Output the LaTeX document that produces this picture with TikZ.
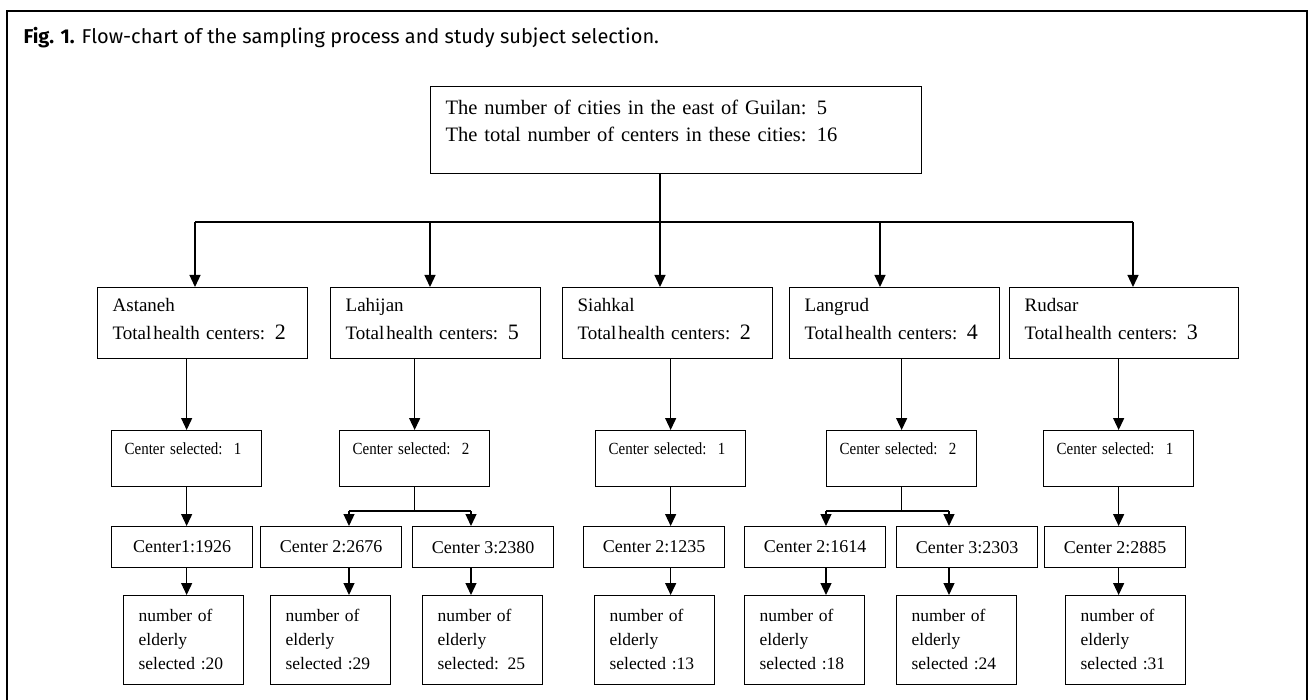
\documentclass[tikz,border=0pt]{standalone}
\usepackage{fontspec}
\setmainfont{Liberation Serif}
\newfontfamily\titlefont{Fira Sans}
\newfontfamily\narrowfont[FakeStretch=0.88]{Liberation Serif}
\usetikzlibrary{positioning}
\usetikzlibrary{arrows.meta}
\usetikzlibrary{calc}

\newcommand{\hcnum}[1]{{\fontsize{22}{28}\selectfont #1}}

\begin{document}
\begin{tikzpicture}[x=1pt,y=-1pt,>={Triangle[length=12pt,width=11pt]},line width=1.3pt,
                    box/.style={draw,anchor=north west,align=left,inner xsep=15pt},
                    top node/.style={box,text width=461pt,inner ysep=6pt,text height=22pt,text depth=53pt,font=\fontsize{20.5}{27}\selectfont},
                    city node/.style={box,text width=180pt,inner ysep=6pt,text height=18pt,text depth=41pt,font=\fontsize{19}{28}\selectfont},
                    sel node/.style={box,inner xsep=13pt,text width=124pt,inner ysep=7pt,text height=17pt,text depth=25pt,font=\narrowfont\fontsize{17}{20}\selectfont},
                    count node/.style={draw,anchor=north west,minimum width=141pt,minimum height=41pt,inner sep=0pt,font=\fontsize{18}{22}\selectfont},
                    elder node/.style={box,text width=90pt,inner ysep=6pt,text height=20pt,text depth=57pt,font=\fontsize{17.5}{24}\selectfont}]
\useasboundingbox (0,0) rectangle (1309,700);

% frame and caption
\draw[line width=1.5pt] (7,700) -- (7,11) -- (1307,11) -- (1307,700);
\node[anchor=base west,inner sep=0pt,font=\titlefont\fontsize{20}{24}\selectfont] (title) at (23,44)
  {\textbf{Fig. 1.} Flow-chart of the sampling process and study subject selection.};

\node[top node] (top) at (430,86) {The number of cities in the east of Guilan: 5\\The total number of centers in these cities: 16};

% cities
\node[city node] (ast) at (97,287) {Astaneh\\Total\hspace{2pt}health centers: \hcnum{2}};
\node[city node] (lah) at (330,287) {Lahijan\\Total\hspace{2pt}health centers: \hcnum{5}};
\node[city node] (sia) at (562,287) {Siahkal\\Total\hspace{2pt}health centers: \hcnum{2}};
\node[city node] (lan) at (789,287) {Langrud\\Total\hspace{2pt}health centers: \hcnum{4}};
\node[city node,text width=199pt] (rud) at (1009,287) {Rudsar\\Total\hspace{2pt}health centers: \hcnum{3}};

\node[sel node] (astsel) at (111,430) {Center selected:\ \ 1};
\node[sel node] (lahsel) at (339,430) {Center selected:\ \ 2};
\node[sel node] (siasel) at (595,430) {Center selected:\ \ 1};
\node[sel node] (lansel) at (826,430) {Center selected:\ \ 2};
\node[sel node] (rudsel) at (1043,430) {Center selected:\ \ 1};

\node[count node] (ast1) at (111,526) {Center1:1926};
\node[count node] (lah2) at (260,526) {Center 2:2676};
\node[count node] (lah3) at (412,526) {Center 3:2380};
\node[count node] (sia2) at (583,526) {Center 2:1235};
\node[count node] (lan2) at (744,526) {Center 2:1614};
\node[count node] (lan3) at (896,526) {Center 3:2303};
\node[count node] (rud2) at (1044,526) {Center 2:2885};

\node[elder node] (ast1e) at (123,595) {number of\\elderly\\selected :20};
\node[elder node] (lah2e) at (270,595) {number of\\elderly\\selected :29};
\node[elder node] (lah3e) at (422,595) {number of\\elderly\\selected: 25};
\node[elder node] (sia2e) at (594,595) {number of\\elderly\\selected :13};
\node[elder node] (lan2e) at (744,595) {number of\\elderly\\selected :18};
\node[elder node] (lan3e) at (896,595) {number of\\elderly\\selected :24};
\node[elder node] (rud2e) at (1065,595) {number of\\elderly\\selected :31};

% bus
\coordinate (busA) at (195,222);
\coordinate (busB) at (430,222);
\coordinate (busC) at (660,222);
\coordinate (busD) at (880,222);
\coordinate (busE) at (1133,222);
\draw (top.south -| busC) -- (busC);
\draw (busA) -- (busE);
\path[->]
  (busA) edge (busA |- ast.north)
  (busB) edge (busB |- lah.north)
  (busC) edge (busC |- sia.north)
  (busD) edge (busD |- lan.north)
  (busE) edge (busE |- rud.north);

\path[->]
  (ast.south -| astsel) edge (astsel)
  (lah.south -| lahsel) edge (lahsel)
  (sia.south -| siasel) edge (siasel)
  (lan.south -| lansel) edge (lansel)
  (rud.south -| rudsel) edge (rudsel);

% single chains
\path[->]
  (astsel) edge (astsel |- ast1.north)
  (ast1.south -| astsel) edge (astsel |- ast1e.north)
  (siasel) edge (siasel |- sia2.north)
  (sia2.south -| siasel) edge (siasel |- sia2e.north)
  (rudsel) edge (rudsel |- rud2.north)
  (rud2.south -| rudsel) edge (rudsel |- rud2e.north);

% split chains
\coordinate (lahL) at (349,511);
\coordinate (lahR) at (471,511);
\coordinate (lanL) at (826,511);
\coordinate (lanR) at (949,511);
\draw (lahsel) -- (lahsel |- lahL);
\draw (lahL) -- (lahR);
\draw (lansel) -- (lansel |- lanL);
\draw (lanL) -- (lanR);
\path[->]
  (lahL) edge (lahL |- lah2.north)
  (lahR) edge (lahR |- lah3.north)
  (lah2.south -| lahL) edge (lahL |- lah2e.north)
  (lah3.south -| lahR) edge (lahR |- lah3e.north)
  (lanL) edge (lanL |- lan2.north)
  (lanR) edge (lanR |- lan3.north)
  (lan2.south -| lanL) edge (lanL |- lan2e.north)
  (lan3.south -| lanR) edge (lanR |- lan3e.north);
\end{tikzpicture}
\end{document}
